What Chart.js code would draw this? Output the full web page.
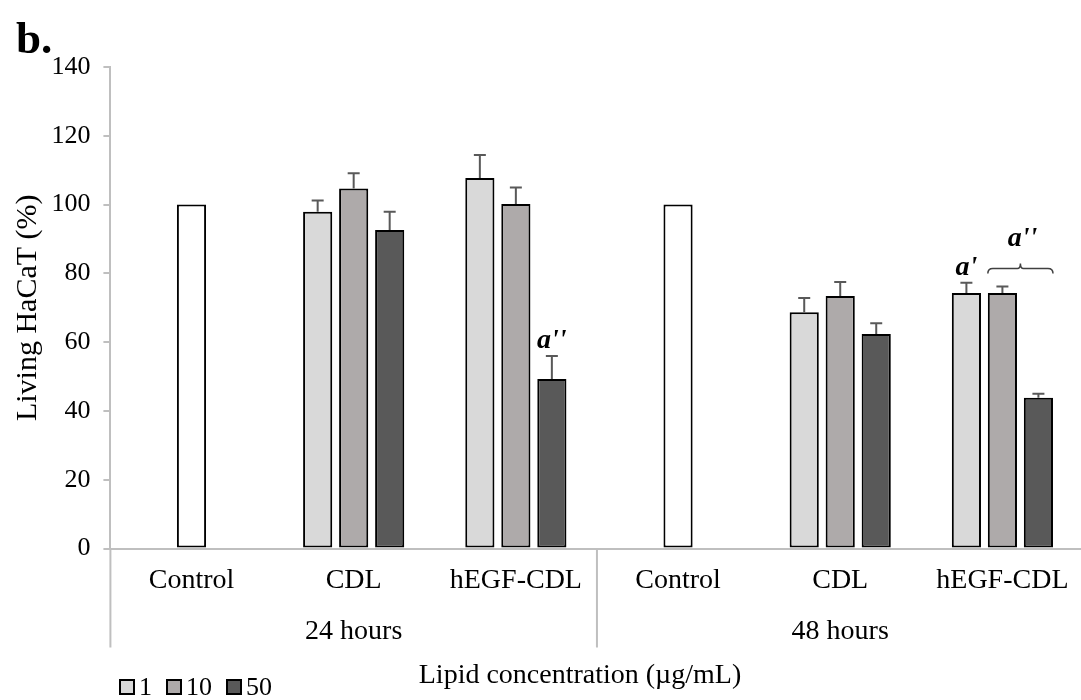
<!DOCTYPE html>
<html>
<head>
<meta charset="utf-8">
<script src="https://cdn.jsdelivr.net/npm/chart.js@4.4.1/dist/chart.umd.min.js"></script>
<style>
  html, body { margin: 0; padding: 0; background: #fff; overflow: hidden; }
  #wrap { position: relative; width: 1090px; height: 700px; }
</style>
</head>
<body>
<div id="wrap"><canvas id="c"></canvas></div>
<script>
// Treatments on the x axis, grouped by incubation time
const categories = ['Control', 'CDL', 'hEGF-CDL', 'Control', 'CDL', 'hEGF-CDL'];
const timeGroups = ['24 hours', '48 hours'];

// Lipid concentration series (µg/mL)
const seriesLabels = ['1', '10', '50'];
const conc1  = [0, 97.9, 107.7, 0, 68.7, 74.3];
const conc10 = [100, 104.7, 100.2, 100, 73.4, 74.3];
const conc50 = [0, 92.6, 49.3, 0, 62.4, 43.8];

// Standard deviations (upper error bars)
const err1  = [0, 3.3, 6.7, 0, 4.1, 3.0];
const err10 = [0, 4.4, 4.8, 0, 4.1, 1.9];
const err50 = [0, 5.3, 6.7, 0, 3.1, 1.2];

// Y axis ticks
const yMin = 0, yMax = 140, yStep = 20;

// Significance marks: single bar or bracket over several bars
const marks = [
  { datasets: [2], index: 2, text: "a''" },
  { datasets: [0], index: 5, text: "a'" },
  { datasets: [1, 2], index: 5, text: "a''", bracket: true }
];

const SERIF = "'Liberation Serif', 'Times New Roman', Times, serif";
const seriesFill = ['#d9d9d9', '#aeaaaa', '#595959'];
const controlFill = '#ffffff';
const axisGrey = '#bfbfbf';

const values = [conc1, conc10, conc50];
const errors = [err1, err10, err50];

const datasets = seriesLabels.map((lab, i) => ({
  label: lab,
  data: values[i],
  errors: errors[i],
  backgroundColor: categories.map(c => (c === 'Control' ? controlFill : seriesFill[i])),
  legendFill: seriesFill[i],
  borderColor: '#000000',
  borderWidth: 2,
  borderSkipped: false
}));

const decor = {
  id: 'decor',
  afterDatasetsDraw(chart) {
    const ctx = chart.ctx, ys = chart.scales.y;
    ctx.save();
    ctx.strokeStyle = '#595959';
    ctx.lineWidth = 2;
    chart.data.datasets.forEach((ds, i) => {
      chart.getDatasetMeta(i).data.forEach((bar, j) => {
        const e = ds.errors[j];
        if (!e) return;
        const top = ys.getPixelForValue(ds.data[j] + e);
        ctx.beginPath();
        ctx.moveTo(bar.x, bar.y);
        ctx.lineTo(bar.x, top);
        ctx.moveTo(bar.x - 6, top);
        ctx.lineTo(bar.x + 6, top);
        ctx.stroke();
      });
    });
    ctx.restore();
  },
  afterDraw(chart) {
    const ctx = chart.ctx, xs = chart.scales.x, ys = chart.scales.y;
    const area = chart.chartArea;
    const catW = (xs.right - xs.left) / categories.length;
    const perGroup = categories.length / timeGroups.length;
    ctx.save();

    // group dividers and time labels
    ctx.strokeStyle = axisGrey;
    ctx.lineWidth = 2;
    for (let g = 0; g <= timeGroups.length; g++) {
      const x = xs.left + g * perGroup * catW;
      ctx.beginPath();
      ctx.moveTo(x, area.bottom);
      ctx.lineTo(x, area.bottom + 99);
      ctx.stroke();
    }
    ctx.fillStyle = '#000';
    ctx.font = '28px ' + SERIF;
    ctx.textAlign = 'center';
    ctx.textBaseline = 'middle';
    timeGroups.forEach((name, g) => {
      const a = xs.getPixelForValue(g * perGroup);
      const b = xs.getPixelForValue(g * perGroup + perGroup - 1);
      ctx.fillText(name, (a + b) / 2, area.bottom + 83);
    });

    // x axis title
    ctx.fillText('Lipid concentration (\u00b5g/mL)', 580, area.bottom + 127);

    // legend
    ctx.font = '26px ' + SERIF;
    ctx.textAlign = 'left';
    let lx = 120;
    const ly = 687;
    chart.data.datasets.forEach(ds => {
      ctx.fillStyle = ds.legendFill;
      ctx.fillRect(lx, ly - 7, 14, 14);
      ctx.strokeStyle = '#000';
      ctx.lineWidth = 2;
      ctx.strokeRect(lx, ly - 7, 14, 14);
      ctx.fillStyle = '#000';
      ctx.fillText(ds.label, lx + 19, ly + 1);
      lx += 19 + ctx.measureText(ds.label).width + 15;
    });

    // panel letter
    ctx.font = 'bold 45px ' + SERIF;
    ctx.textAlign = 'left';
    ctx.textBaseline = 'alphabetic';
    ctx.fillText('b.', 16, 53);

    // significance marks
    ctx.font = 'italic bold 28px ' + SERIF;
    ctx.textAlign = 'center';
    ctx.textBaseline = 'middle';
    marks.forEach(m => {
      const bars = m.datasets.map(d => chart.getDatasetMeta(d).data[m.index]);
      const tops = m.datasets.map(d => {
        const ds = chart.data.datasets[d];
        return ys.getPixelForValue(ds.data[m.index] + ds.errors[m.index]);
      });
      const top = Math.min(...tops);
      if (m.bracket) {
        const x0 = bars[0].x - bars[0].width / 2;
        const x1 = bars[bars.length - 1].x + bars[bars.length - 1].width / 2;
        const yb = top - 18;
        const xm = (x0 + x1) / 2;
        ctx.strokeStyle = '#404040';
        ctx.lineWidth = 1.5;
        ctx.beginPath();
        ctx.moveTo(x0, yb + 5);
        ctx.quadraticCurveTo(x0, yb, x0 + 5, yb);
        ctx.lineTo(xm - 3, yb);
        ctx.quadraticCurveTo(xm, yb, xm, yb - 5);
        ctx.quadraticCurveTo(xm, yb, xm + 3, yb);
        ctx.lineTo(x1 - 5, yb);
        ctx.quadraticCurveTo(x1, yb, x1, yb + 5);
        ctx.stroke();
        ctx.fillStyle = '#000';
        ctx.fillText(m.text, xm + 2, yb - 30);
      } else {
        ctx.fillStyle = '#000';
        ctx.fillText(m.text, bars[0].x, top - 15);
      }
    });
    ctx.restore();
  }
};

new Chart(document.getElementById('c'), {
  type: 'bar',
  data: { labels: categories, datasets },
  plugins: [decor],
  options: {
    responsive: true,
    maintainAspectRatio: false,
    animation: false,
    layout: { padding: { top: 67, right: 6.5, bottom: 0, left: 0 } },
    datasets: { bar: { categoryPercentage: 0.666, barPercentage: 0.81 } },
    plugins: { legend: { display: false }, tooltip: { enabled: false } },
    scales: {
      x: {
        grid: { display: true, drawOnChartArea: false, drawTicks: false },
        border: { color: axisGrey, width: 2 },
        ticks: { color: '#000', font: { family: SERIF, size: 28 }, padding: 15 },
        afterFit(s) { s.height = 151.5; }
      },
      y: {
        min: yMin,
        max: yMax,
        ticks: { stepSize: yStep, color: '#000', font: { family: SERIF, size: 26 }, padding: 13 },
        grid: { drawOnChartArea: false, drawTicks: true, tickLength: 7, color: axisGrey, lineWidth: 2 },
        border: { color: axisGrey, width: 2 },
        title: {
          display: true,
          text: 'Living HaCaT (%)',
          color: '#000',
          font: { family: SERIF, size: 30 },
          padding: { top: 10, bottom: 0 }
        },
        afterFit(s) { s.width = 110.4; }
      }
    }
  }
});
</script>
</body>
</html>
